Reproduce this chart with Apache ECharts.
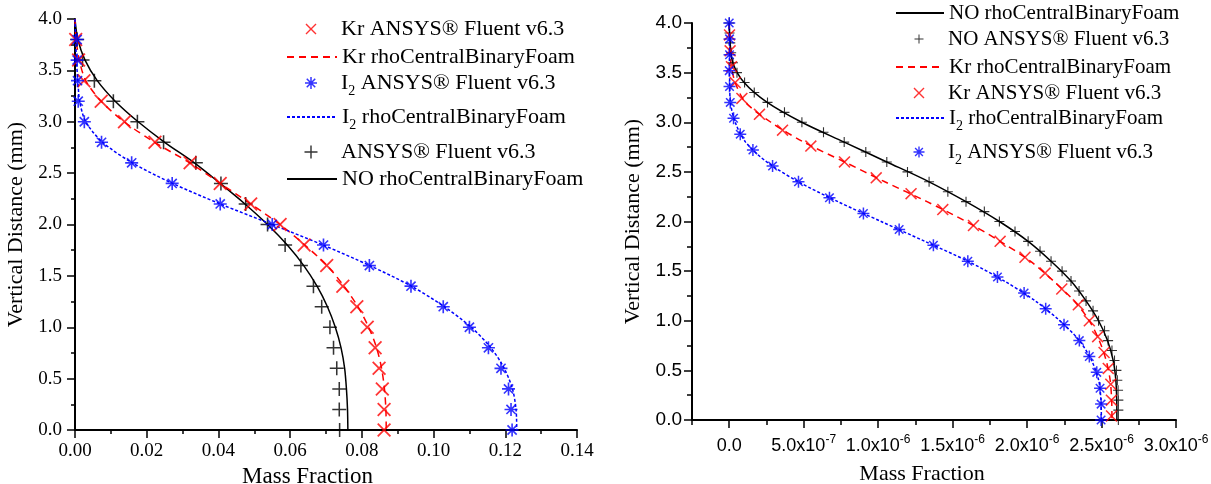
<!DOCTYPE html>
<html><head><meta charset="utf-8">
<script src="https://cdn.jsdelivr.net/npm/echarts@6.0.0/dist/echarts.min.js"></script>
<style>
html,body{margin:0;padding:0;background:#fff;}
#wrap{position:relative;width:1211px;height:484px;overflow:hidden;background:#fff;}
#left{position:absolute;left:0;top:0;width:600px;height:484px;}
#right{position:absolute;left:600px;top:0;width:611px;height:484px;}
</style></head><body>
<div id="wrap"><div id="left"></div><div id="right"></div></div>
<script>
// ---------- LEFT CHART DATA ----------
const L_X_TICKS = [0, 0.02, 0.04, 0.06, 0.08, 0.10, 0.12, 0.14];
const L_Y_TICKS = [0, 0.5, 1.0, 1.5, 2.0, 2.5, 3.0, 3.5, 4.0];
const L_LINE_Y = [4.0,3.8,3.6,3.4,3.2,3.0,2.8,2.6,2.4,2.2,2.0,1.8,1.6,1.4,1.2,1.0,0.8,0.6,0.4,0.2,0.0];
const L_NO_LINE_X = [0.0000,0.0008,0.0028,0.0062,0.0112,0.0176,0.0250,0.0333,0.0405,0.0474,0.0537,0.0592,0.0638,0.0675,0.0704,0.0726,0.0742,0.0752,0.0757,0.0760,0.0761];
const L_KR_LINE_X = [0.0000,0.0003,0.0012,0.0030,0.0073,0.0137,0.0222,0.0320,0.0405,0.0490,0.0572,0.0641,0.0703,0.0750,0.0789,0.0819,0.0841,0.0855,0.0863,0.0867,0.0868];
const L_I2_LINE_X = [0.0000,0.0002,0.0004,0.0008,0.0013,0.0030,0.0077,0.0160,0.0272,0.0405,0.0550,0.0692,0.0822,0.0938,0.1030,0.1105,0.1160,0.1197,0.1220,0.1230,0.1232];
const L_MARK_Y = [3.8,3.6,3.4,3.2,3.0,2.8,2.6,2.4,2.2,2.0,1.8,1.6,1.4,1.2,1.0,0.8,0.6,0.4,0.2,0.0];
const L_NO_MARK_X = [0.0006,0.0021,0.0054,0.0107,0.0174,0.0247,0.0337,0.0407,0.0476,0.0537,0.0586,0.0630,0.0665,0.0688,0.0711,0.0721,0.0730,0.0737,0.0737,0.0738];
const L_KR_MARK_X = [0.0002,0.0010,0.0025,0.0073,0.0138,0.0223,0.0321,0.0405,0.0490,0.0572,0.0639,0.0702,0.0747,0.0786,0.0815,0.0837,0.0848,0.0857,0.0862,0.0862];
const L_I2_MARK_X = [0.0006,0.0006,0.0007,0.0009,0.0026,0.0074,0.0158,0.0271,0.0405,0.0550,0.0693,0.0821,0.0937,0.1027,0.1100,0.1153,0.1188,0.1209,0.1216,0.1219];

// ---------- RIGHT CHART DATA ----------
const R_X_TICKS = [0, 5e-7, 1e-6, 1.5e-6, 2e-6, 2.5e-6, 3e-6];
const R_X_MINOR = [-2.5e-7, 2.5e-7, 7.5e-7, 1.25e-6, 1.75e-6, 2.25e-6, 2.75e-6];
const R_Y_TICKS = [0, 0.5, 1.0, 1.5, 2.0, 2.5, 3.0, 3.5, 4.0];
const R_LINE_Y = [4.0,3.8,3.6,3.4,3.2,3.0,2.8,2.6,2.4,2.2,2.0,1.8,1.6,1.4,1.2,1.0,0.8,0.6,0.4,0.2,0.0];
const R_NO_LINE_X = [0,0.006e-6,0.024e-6,0.100e-6,0.255e-6,0.487e-6,0.772e-6,1.058e-6,1.342e-6,1.590e-6,1.814e-6,2.007e-6,2.161e-6,2.295e-6,2.396e-6,2.480e-6,2.540e-6,2.578e-6,2.596e-6,2.602e-6,2.603e-6];
const R_KR_LINE_X = [0,0.004e-6,0.011e-6,0.040e-6,0.110e-6,0.280e-6,0.500e-6,0.774e-6,1.045e-6,1.328e-6,1.590e-6,1.819e-6,2.022e-6,2.178e-6,2.316e-6,2.418e-6,2.485e-6,2.531e-6,2.558e-6,2.568e-6,2.570e-6];
const R_I2_LINE_X = [0,0.001e-6,0.002e-6,0.003e-6,0.008e-6,0.040e-6,0.110e-6,0.252e-6,0.465e-6,0.730e-6,1.020e-6,1.314e-6,1.602e-6,1.848e-6,2.055e-6,2.220e-6,2.351e-6,2.433e-6,2.481e-6,2.496e-6,2.499e-6];
const R_NO_MARK_Y = [4.0,3.9,3.8,3.7,3.6,3.5,3.4,3.3,3.2,3.1,3.0,2.9,2.8,2.7,2.6,2.5,2.4,2.3,2.2,2.1,2.0,1.9,1.8,1.7,1.6,1.5,1.4,1.3,1.2,1.1,1.0,0.9,0.8,0.7,0.6,0.5,0.4,0.3,0.2,0.1,0.0];
const R_NO_MARK_X = [0,0.002e-6,0.007e-6,0.013e-6,0.025e-6,0.052e-6,0.103e-6,0.168e-6,0.257e-6,0.371e-6,0.488e-6,0.633e-6,0.772e-6,0.917e-6,1.058e-6,1.197e-6,1.342e-6,1.468e-6,1.590e-6,1.713e-6,1.814e-6,1.919e-6,2.007e-6,2.087e-6,2.161e-6,2.235e-6,2.295e-6,2.349e-6,2.396e-6,2.443e-6,2.480e-6,2.520e-6,2.544e-6,2.570e-6,2.587e-6,2.600e-6,2.606e-6,2.611e-6,2.613e-6,2.613e-6,2.613e-6];
const R_KR_MARK_Y = [3.88,3.72,3.56,3.40,3.24,3.08,2.92,2.76,2.60,2.44,2.28,2.12,1.96,1.80,1.64,1.48,1.32,1.16,1.00,0.84,0.68,0.52,0.36,0.20,0.04];
const R_KR_MARK_X = [0.002e-6,0.006e-6,0.015e-6,0.040e-6,0.085e-6,0.203e-6,0.358e-6,0.548e-6,0.774e-6,0.987e-6,1.221e-6,1.434e-6,1.640e-6,1.819e-6,1.986e-6,2.121e-6,2.233e-6,2.344e-6,2.418e-6,2.474e-6,2.517e-6,2.545e-6,2.562e-6,2.566e-6,2.567e-6];
const R_I2_MARK_Y = [4.00,3.84,3.68,3.52,3.36,3.20,3.04,2.88,2.72,2.56,2.40,2.24,2.08,1.92,1.76,1.60,1.44,1.28,1.12,0.96,0.80,0.64,0.48,0.32,0.16,0.00];
const R_I2_MARK_X = [0,0.002e-6,0.002e-6,0,0.002e-6,0.007e-6,0.029e-6,0.074e-6,0.159e-6,0.291e-6,0.465e-6,0.673e-6,0.901e-6,1.141e-6,1.371e-6,1.602e-6,1.801e-6,1.980e-6,2.125e-6,2.248e-6,2.351e-6,2.418e-6,2.468e-6,2.490e-6,2.497e-6,2.497e-6];

// ---------- helpers ----------
function pairs(xs, ys) { return xs.map((x, i) => [x, ys[i]]); }
function armPts(h) {
  return [[-h,-10],[h,-10],[h,-h],[10,-h],[10,h],[h,h],[h,10],[-h,10],[-h,h],[-10,h],[-10,-h],[-h,-h]];
}
function rot(pts, deg) {
  const a = deg * Math.PI / 180, c = Math.cos(a), s = Math.sin(a);
  return pts.map(p => [p[0]*c - p[1]*s, p[0]*s + p[1]*c]);
}
function poly(pts) { return 'M' + pts.map(p => p[0].toFixed(3) + ',' + p[1].toFixed(3)).join('L') + 'Z'; }
const PLUS = 'path://' + poly(armPts(1.1));
const CROSS = 'path://' + poly(rot(armPts(1.0), 45));
const STAR = 'path://' + poly(armPts(1.25)) + poly(rot(armPts(1.25), 45));

const BLACK = '#000000', RED = '#ff0000', BLUE = '#0000ff';
const SERIF = 'Liberation Serif';
const SANS = 'Liberation Sans';
const DASH = [7, 5], DOT = [3, 2];
const LEG_LH = 30;

function legendFmt(name) { return name.replace(/^I2 /, 'I{sub|2} '); }
function makeLegend(name, iconLeft, centerY, iw, ih, fs, isLine) {
  return {
    data: [name], left: isLine ? iconLeft : iconLeft + (iw - ih) / 2, top: centerY - LEG_LH / 2,
    itemWidth: iw, itemHeight: ih,
    padding: 0, selectedMode: false, orient: 'vertical', formatter: legendFmt,
    textStyle: { fontFamily: SERIF, fontSize: fs, lineHeight: LEG_LH, color: '#000',
      rich: { sub: { fontFamily: SERIF, fontSize: 14, lineHeight: 14, color: '#000', padding: [16, 0, 0, 0] } } }
  };
}
function axisBase() {
  return {
    type: 'value',
    axisLine: { show: true, onZero: false, lineStyle: { color: '#000', width: 2 } },
    axisTick: { show: true, inside: false, length: 8, lineStyle: { color: '#000', width: 1.5 } },
    splitLine: { show: false }
  };
}
function richLabel(fam, fs, margin, digits) {
  return { color: '#000', fontFamily: fam, fontSize: fs, margin: margin,
    formatter: v => '{t|' + v.toFixed(digits) + '}',
    rich: { t: { fontFamily: fam, fontSize: fs, color: '#000' } } };
}
function axisName(text, gap, padding, fs) {
  return { name: '{n|' + text + '}', nameLocation: 'middle', nameGap: gap,
    nameTextStyle: { fontFamily: SERIF, fontSize: fs, color: '#000', padding: padding,
      rich: { n: { fontFamily: SERIF, fontSize: fs, color: '#000' } } } };
}
function lineSeries(name, xs, ys, color, type) {
  return { name: name, type: 'line', data: pairs(xs, ys), symbol: 'none', showSymbol: false, smooth: 0.3,
    lineStyle: { color: color, width: 1.5, type: type }, itemStyle: { color: 'rgba(0,0,0,0)', borderWidth: 0 }, z: 2 };
}
function markSeries(name, xs, ys, color, sym, size) {
  return { name: name, type: 'scatter', data: pairs(xs, ys), symbol: sym, symbolSize: size,
    symbolKeepAspect: true, itemStyle: { color: color }, z: 3 };
}

// ---------- LEFT ----------
const leftChart = echarts.init(document.getElementById('left'), null, { renderer: 'canvas' });
leftChart.setOption({
  animation: false,
  backgroundColor: '#fff',
  textStyle: { fontFamily: SERIF, color: '#000' },
  grid: { left: 75, top: 19, width: 502, height: 411, containLabel: false, outerBoundsMode: 'none' },
  xAxis: Object.assign(axisBase(), {
    min: L_X_TICKS[0], max: L_X_TICKS[L_X_TICKS.length - 1], interval: 0.02,
    minorTick: { show: true, splitNumber: 2, length: 4, lineStyle: { color: '#000', width: 1.5 } },
    axisLabel: richLabel(SERIF, 19, 12, 2)
  }, axisName('Mass Fraction', 31, [0, 37, 0, 0], 23)),
  yAxis: Object.assign(axisBase(), {
    min: L_Y_TICKS[0], max: L_Y_TICKS[L_Y_TICKS.length - 1], interval: 0.5,
    minorTick: { show: true, splitNumber: 2, length: 4, lineStyle: { color: '#000', width: 1.5 } },
    axisLabel: richLabel(SERIF, 19, 13, 1)
  }, axisName('Vertical Distance (mm)', 41, [0, 0, 0, 0], 22)),
  legend: [
    makeLegend('Kr ANSYS® Fluent v6.3', 286, 29, 50, 11, 22, false),
    makeLegend('Kr rhoCentralBinaryFoam', 286, 57, 50, 14, 22, true),
    makeLegend('I2 ANSYS® Fluent v6.3', 286, 83, 50, 12, 22, false),
    makeLegend('I2 rhoCentralBinaryFoam', 286, 117, 50, 14, 22, true),
    makeLegend('ANSYS® Fluent v6.3', 286, 152, 50, 13, 22, false),
    makeLegend('NO rhoCentralBinaryFoam', 286, 179, 50, 14, 22, true)
  ],
  series: [
    lineSeries('NO rhoCentralBinaryFoam', L_NO_LINE_X, L_LINE_Y, BLACK, 'solid'),
    lineSeries('Kr rhoCentralBinaryFoam', L_KR_LINE_X, L_LINE_Y, RED, DASH),
    lineSeries('I2 rhoCentralBinaryFoam', L_I2_LINE_X, L_LINE_Y, BLUE, DOT),
    markSeries('ANSYS® Fluent v6.3', L_NO_MARK_X, L_MARK_Y, BLACK, PLUS, 14),
    markSeries('Kr ANSYS® Fluent v6.3', L_KR_MARK_X, L_MARK_Y, RED, CROSS, 14),
    markSeries('I2 ANSYS® Fluent v6.3', L_I2_MARK_X, L_MARK_Y, BLUE, STAR, 13)
  ]
});

// ---------- RIGHT ----------
function sci(v) {
  if (Math.abs(v) < 1e-12) return '{m|0.0}';
  const e = Math.floor(Math.log10(v) + 1e-9);
  const m = v / Math.pow(10, e);
  return '{m|' + m.toFixed(1) + 'x10}{sup|' + e + '}';
}
const R_MIN = -2.5e-7, R_MAX = 3e-6;
const rightChart = echarts.init(document.getElementById('right'), null, { renderer: 'canvas' });
rightChart.setOption({
  animation: false,
  backgroundColor: '#fff',
  textStyle: { fontFamily: SERIF, color: '#000' },
  grid: { left: 92, top: 23, width: 484, height: 397, containLabel: false, outerBoundsMode: 'none' },
  xAxis: [
    Object.assign(axisBase(), {
      min: R_MIN, max: R_MAX, interval: 2.5e-7, position: 'bottom',
      axisTick: { show: true, length: 8, customValues: R_X_TICKS, lineStyle: { color: '#000', width: 1.5 } },
      axisLabel: { customValues: R_X_TICKS, color: '#000', fontFamily: SANS, fontSize: 18, lineHeight: 24, margin: 14,
        formatter: sci,
        rich: { m: { fontFamily: SANS, fontSize: 18, lineHeight: 24, color: '#000' },
                sup: { fontFamily: SANS, fontSize: 12, lineHeight: 12, color: '#000', padding: [0, 0, 12, 0] } } }
    }, axisName('Mass Fraction', 38, [0, 24, 0, 0], 22)),
    {
      type: 'value', min: R_MIN, max: R_MAX, interval: 2.5e-7, position: 'bottom', offset: 0,
      axisLine: { show: false },
      axisTick: { show: true, length: 5, customValues: R_X_MINOR, lineStyle: { color: '#000', width: 1.5 } },
      axisLabel: { show: false }, splitLine: { show: false }
    }
  ],
  yAxis: Object.assign(axisBase(), {
    min: R_Y_TICKS[0], max: R_Y_TICKS[R_Y_TICKS.length - 1], interval: 0.5,
    minorTick: { show: true, splitNumber: 2, length: 5, lineStyle: { color: '#000', width: 1.5 } },
    axisLabel: richLabel(SANS, 19, 10, 1)
  }, axisName('Vertical Distance (mm)', 41, [0, 0, 0, 0], 22)),
  legend: [
    makeLegend('NO rhoCentralBinaryFoam', 295, 13, 48, 14, 21, true),
    makeLegend('NO ANSYS® Fluent v6.3', 295, 39, 48, 9, 21, false),
    makeLegend('Kr rhoCentralBinaryFoam', 295, 67, 48, 14, 21, true),
    makeLegend('Kr ANSYS® Fluent v6.3', 295, 93, 48, 11, 21, false),
    makeLegend('I2 rhoCentralBinaryFoam', 295, 118, 48, 14, 21, true),
    makeLegend('I2 ANSYS® Fluent v6.3', 295, 152, 48, 11, 21, false)
  ],
  series: [
    lineSeries('NO rhoCentralBinaryFoam', R_NO_LINE_X, R_LINE_Y, BLACK, 'solid'),
    lineSeries('Kr rhoCentralBinaryFoam', R_KR_LINE_X, R_LINE_Y, RED, DASH),
    lineSeries('I2 rhoCentralBinaryFoam', R_I2_LINE_X, R_LINE_Y, BLUE, DOT),
    markSeries('NO ANSYS® Fluent v6.3', R_NO_MARK_X, R_NO_MARK_Y, BLACK, PLUS, 10),
    markSeries('Kr ANSYS® Fluent v6.3', R_KR_MARK_X, R_KR_MARK_Y, RED, CROSS, 12),
    markSeries('I2 ANSYS® Fluent v6.3', R_I2_MARK_X, R_I2_MARK_Y, BLUE, STAR, 12)
  ]
});
</script>
</body></html>
